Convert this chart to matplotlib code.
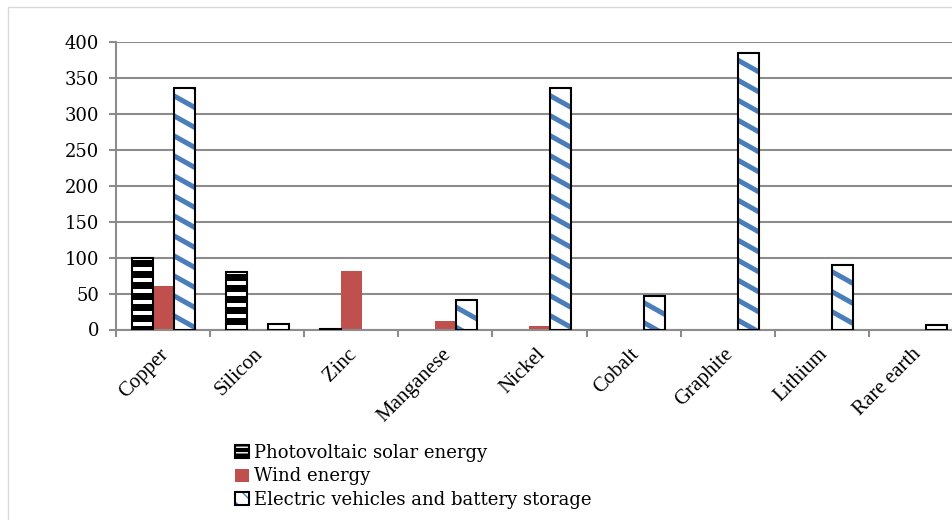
import numpy as np
import matplotlib
matplotlib.use("Agg")
import matplotlib.pyplot as plt
from matplotlib.patches import Patch, Rectangle
from matplotlib.collections import LineCollection
from matplotlib.transforms import ScaledTranslation

# Mineral demand by clean-energy technology
categories = ["Copper", "Silicon", "Zinc", "Manganese", "Nickel",
              "Cobalt", "Graphite", "Lithium", "Rare earth"]
solar_pv = [100, 80, 1, 0, 0, 0, 0, 0, 0]
wind = [60, 0, 82, 12, 5, 0, 0, 0, 0]
ev_storage = [335, 8, 0, 41, 335, 47, 384, 90, 6]
series_names = ["Photovoltaic solar energy", "Wind energy",
                "Electric vehicles and battery storage"]
y_ticks = [0, 50, 100, 150, 200, 250, 300, 350, 400]

DPI = 100
W, H = 952, 520
fig = plt.figure(figsize=(W / DPI, H / DPI), dpi=DPI)

# chart frame (runs off the right and bottom edges)
fig.patches.append(Rectangle((8 / W, -0.1), 1.2, 1 - 7 / H + 0.1,
                             transform=fig.transFigure, fill=False,
                             edgecolor="#d9d9d9", linewidth=1.0))

AX_W_PX, AX_H_PX = 847.0, 287.8
ax = fig.add_axes([116 / W, (H - 329.5) / H, AX_W_PX / W, AX_H_PX / H])

GRID = "#8c8c8c"
RED = "#c0504d"
BLUE = "#4a7ebb"
serif = ["Liberation Serif", "DejaVu Serif"]
serif_wide = ["DejaVu Serif", "Liberation Serif"]

n = len(categories)
x = np.arange(n)
bw = 0.223
YMAX = 400

ax.set_xlim(-0.5, n - 0.5)
ax.set_ylim(0, YMAX)

# pixel -> data conversion factors for the pattern geometry
px_x = n / AX_W_PX
px_y = YMAX / AX_H_PX

solar = np.array(solar_pv, dtype=float)
wnd = np.array(wind, dtype=float)
ev = np.array(ev_storage, dtype=float)

def stripes(bars, color, lw_px, period_px, drop_px):
    """Fill each bar with parallel stripes (sizes given in pixels)."""
    period = period_px * px_y
    for bar in bars:
        bx0, by0 = bar.get_x(), bar.get_y()
        bx1, by1 = bx0 + bar.get_width(), by0 + bar.get_height()
        pad = 2 * px_x
        drop = drop_px * px_y
        segs = []
        c = by1 + drop + period
        while c > by0 - period:
            segs.append([(bx0 - pad, c), (bx1 + pad, c - drop)])
            c -= period
        lc = LineCollection(segs, colors=color, linewidths=lw_px * 72 / DPI,
                            zorder=2.5)
        ax.add_collection(lc, autolim=False)
        lc.set_clip_path(bar)

# photovoltaic: black bars with white horizontal bands
m = solar > 0
pv_bars = ax.bar(x[m] - bw, solar[m], bw, color="black", linewidth=0, zorder=2)
stripes(pv_bars, "white", 4.0, 11.0, 0.0)
ax.bar(x[m] - bw, solar[m], bw, fill=False, edgecolor="black",
       linewidth=1.5, zorder=3)

# wind: solid red
m = wnd > 0
ax.bar(x[m], wnd[m], bw, color=RED, linewidth=0, zorder=2)

# electric vehicles: white bars with blue diagonal stripes
m = ev > 0
ev_bars = ax.bar(x[m] + bw, ev[m], bw, color="white", linewidth=0, zorder=2)
stripes(ev_bars, BLUE, 5.0, 20.0, 14.0)
ax.bar(x[m] + bw, ev[m], bw, fill=False, edgecolor="black",
       linewidth=1.5, zorder=3)

# axes styling
ax.set_axisbelow(True)
ax.yaxis.grid(True, color=GRID, linewidth=1.5)
for s in ["top", "right"]:
    ax.spines[s].set_visible(False)
for s in ["left", "bottom"]:
    ax.spines[s].set_color(GRID)
    ax.spines[s].set_linewidth(1.5)

ax.set_yticks(y_ticks)
ax.set_yticklabels([str(v) for v in y_ticks], fontfamily=serif_wide, fontsize=13)
ax.tick_params(axis="y", length=5, width=1.5, color=GRID, pad=7)

ax.set_xticks(np.arange(n + 1) - 0.5)
ax.set_xticklabels([])
ax.tick_params(axis="x", which="major", length=5, width=1.5, color=GRID)
ax.set_xticks(x, minor=True)
ax.set_xticklabels(categories, minor=True, rotation=45, ha="right",
                   rotation_mode="anchor", fontfamily=serif, fontsize=15)
ax.tick_params(axis="x", which="minor", length=0, pad=11)
shift = ScaledTranslation(-4 / DPI, 0, fig.dpi_scale_trans)
for lab in ax.get_xticklabels(minor=True):
    lab.set_transform(lab.get_transform() + shift)

# legend
h_pv = (Patch(facecolor="black", edgecolor="white", hatch="---", linewidth=0),
        Patch(fill=False, edgecolor="black", linewidth=1.5))
h_wind = Patch(facecolor=RED, linewidth=0)
h_ev = (Patch(facecolor="white", edgecolor=BLUE, hatch="\\\\", linewidth=0),
        Patch(fill=False, edgecolor="black", linewidth=1.5))
fig.legend([h_pv, h_wind, h_ev], series_names,
           loc="upper left", bbox_to_anchor=(226 / W, 1 - 435 / H),
           frameon=False, handlelength=0.75, handleheight=0.75,
           handletextpad=0.3, labelspacing=0.3, borderpad=0,
           prop={"family": serif_wide, "size": 13})

fig.savefig("out.png", dpi=DPI)
